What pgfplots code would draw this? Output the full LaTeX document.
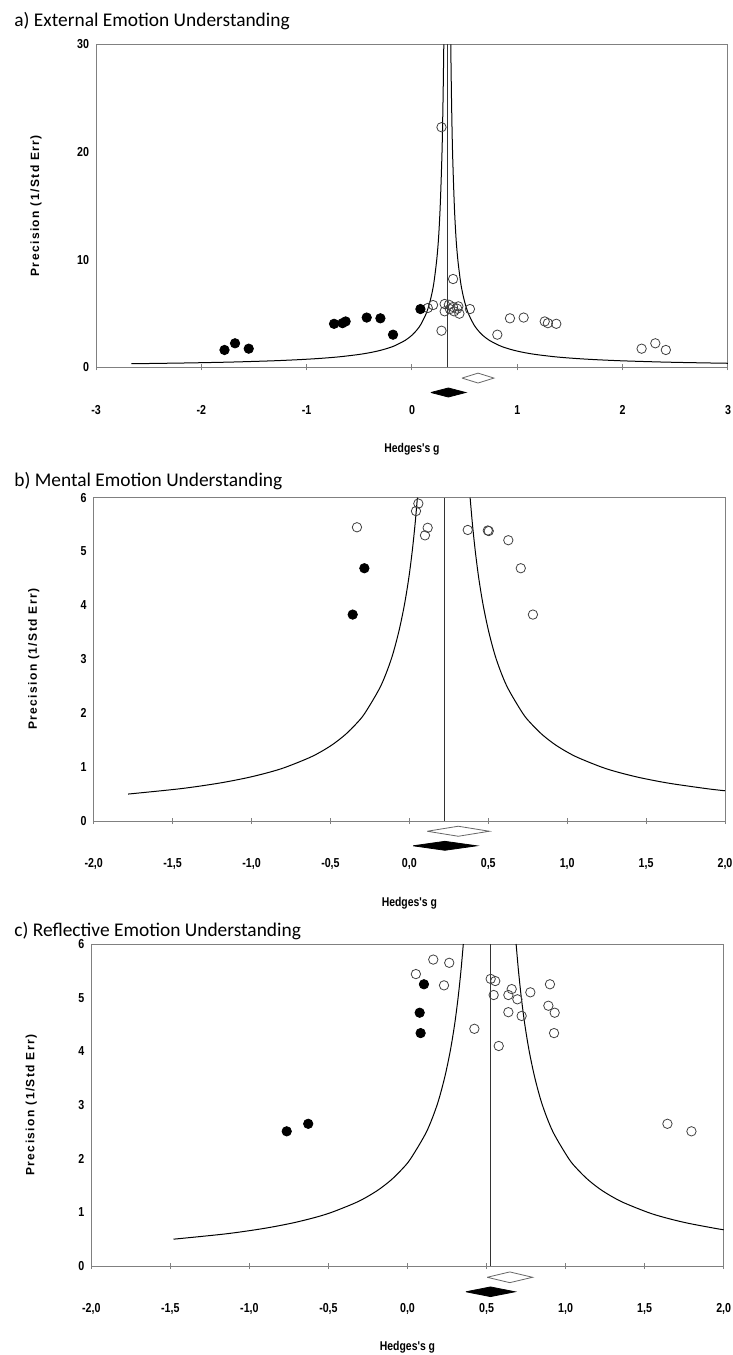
\documentclass[border=0pt]{standalone}
\usepackage{fontspec}
\setmainfont{Liberation Sans}
\newfontfamily\nf[FakeStretch=0.82]{Liberation Sans}
\newfontfamily\ylf[LetterSpace=12]{Liberation Sans}
\newfontfamily\tf{Carlito}
\usepackage{pgfplots}
\pgfplotsset{compat=1.18}
\pgfplotsset{
 funnel/.style={
  scale only axis, clip=false,
  axis line style={draw=black!50, line width=0.5pt},
  xtick pos=bottom, ytick pos=left, xtick align=center,
  major tick length=3pt,
  xtick style={draw=black!50, line width=0.5pt},
  ytick style={draw=none},
  tick label style={font=\nf\bfseries\fontsize{6.5}{7}\selectfont},
  xticklabel style={anchor=base, yshift=-21.95pt},
  ylabel={Precision (1/Std Err)},
  ylabel style={font=\ylf\bfseries\fontsize{6}{7}\selectfont, at={(axis description cs:-0.095,0.5)}, anchor=center},
  xlabel={Hedges's g},
  xlabel style={font=\nf\bfseries\fontsize{6.35}{7}\selectfont, at={(axis description cs:0.5,-0.263)}, anchor=base},
 },
 opn/.style={only marks, mark=o, mark size=2.35pt, mark options={draw=black!75, line width=0.4pt}},
 fld/.style={only marks, mark=*, mark size=2.35pt, mark options={draw=black, fill=black}},
 crv/.style={black, line width=0.5pt, no marks, smooth, tension=0.5},
}
\begin{document}
\begin{tikzpicture}
\useasboundingbox (0,0) rectangle (366.5pt,-677.5pt);
\node[anchor=base west, inner sep=0pt, font=\tf\fontsize{9.7}{11}\selectfont] at (7pt,-13.25pt) {a) External Emotion Understanding};
\node[anchor=base west, inner sep=0pt, font=\tf\fontsize{9.7}{11}\selectfont] at (7pt,-243pt) {b) Mental Emotion Understanding};
\node[anchor=base west, inner sep=0pt, font=\tf\fontsize{9.7}{11}\selectfont] at (7pt,-468pt) {c) Reflective Emotion Understanding};

% ---------------- panel a ----------------
\begin{axis}[funnel, at={(48pt,-183.65pt)}, anchor=south west, width=316pt, height=161.5pt,
  xmin=-3, xmax=3, ymin=0, ymax=30,
  xtick={-3,-2,-1,0,1,2,3}, xticklabels={-3,-2,-1,0,1,2,3},
  ytick={0,10,20,30}, yticklabels={0,10,20,30}]
\addplot[crv] coordinates {(-2.665,0.333) (-2.522,0.35) (-2.165,0.4) (-1.887,0.45) (-1.665,0.5) (-1.332,0.6) (-1.094,0.7) (-0.915,0.8) (-0.776,0.9) (-0.665,1) (-0.498,1.2) (-0.379,1.4) (-0.29,1.6) (-0.221,1.8) (-0.165,2) (-0.065,2.5) (0.002,3) (0.049,3.5) (0.085,4) (0.135,5) (0.168,6) (0.192,7) (0.21,8) (0.235,10) (0.252,12) (0.268,15) (0.285,20) (0.295,25) (0.302,30)};
\addplot[crv] coordinates {(3.0,0.3752) (2.835,0.4) (2.557,0.45) (2.335,0.5) (2.002,0.6) (1.764,0.7) (1.585,0.8) (1.446,0.9) (1.335,1) (1.168,1.2) (1.049,1.4) (0.96,1.6) (0.891,1.8) (0.835,2) (0.735,2.5) (0.668,3) (0.621,3.5) (0.585,4) (0.535,5) (0.502,6) (0.478,7) (0.46,8) (0.435,10) (0.418,12) (0.402,15) (0.385,20) (0.375,25) (0.368,30)};
\addplot[black!80, line width=0.5pt, no marks] coordinates {(0.335,0) (0.335,30)};
\addplot[opn] coordinates {(0.28,22.3) (0.39,8.2) (0.15,5.51) (0.20,5.78) (0.31,5.88) (0.31,5.20) (0.35,5.81) (0.36,5.41) (0.39,5.60) (0.40,5.20) (0.43,5.44) (0.44,5.66) (0.45,4.98) (0.28,3.40) (0.55,5.41) (0.81,3.03) (0.93,4.55) (1.06,4.62) (1.26,4.26) (1.29,4.10) (1.37,4.04) (2.18,1.73) (2.31,2.23) (2.41,1.61)};
\addplot[fld] coordinates {(0.08,5.41) (-0.18,3.03) (-0.30,4.55) (-0.43,4.62) (-0.63,4.26) (-0.66,4.10) (-0.74,4.04) (-1.55,1.73) (-1.68,2.23) (-1.78,1.61)};
\addplot[draw=black!60, fill=white, line width=0.4pt, no marks] coordinates {(0.475,-1.0) (0.627,-0.54) (0.778,-1.0) (0.627,-1.46) (0.475,-1.0)};
\addplot[draw=black, fill=black, line width=0.4pt, no marks] coordinates {(0.18,-2.34) (0.345,-1.92) (0.51,-2.34) (0.345,-2.76) (0.18,-2.34)};
\end{axis}

% ---------------- panel b ----------------
\begin{axis}[funnel, at={(46.85pt,-410.5pt)}, anchor=south west, width=315.65pt, height=161.7pt,
  xmin=-2, xmax=2, ymin=0, ymax=6,
  xtick={-2,-1.5,-1,-0.5,0,0.5,1,1.5,2}, xticklabels={{-2,0},{-1,5},{-1,0},{-0,5},{0,0},{0,5},{1,0},{1,5},{2,0}},
  ytick={0,1,2,3,4,5,6}, yticklabels={0,1,2,3,4,5,6}]
\addplot[crv] coordinates {(-1.782,0.5) (-1.449,0.6) (-1.211,0.7) (-1.032,0.8) (-0.893,0.9) (-0.782,1) (-0.615,1.2) (-0.496,1.4) (-0.407,1.6) (-0.338,1.8) (-0.282,2) (-0.182,2.5) (-0.115,3) (-0.068,3.5) (-0.032,4) (-0.004,4.5) (0.018,5) (0.036,5.5) (0.051,6)};
\addplot[crv] coordinates {(2.0,0.5612) (1.885,0.6) (1.647,0.7) (1.468,0.8) (1.329,0.9) (1.218,1) (1.051,1.2) (0.932,1.4) (0.843,1.6) (0.774,1.8) (0.718,2) (0.618,2.5) (0.551,3) (0.504,3.5) (0.468,4) (0.440,4.5) (0.418,5) (0.400,5.5) (0.385,6)};
\addplot[black!80, line width=0.5pt, no marks] coordinates {(0.222,0) (0.222,6)};
\addplot[opn] coordinates {(0.057,5.89) (0.042,5.75) (-0.332,5.45) (0.116,5.44) (0.099,5.30) (0.370,5.40) (0.497,5.39) (0.503,5.38) (0.627,5.21) (0.706,4.69) (0.783,3.83)};
\addplot[fld] coordinates {(-0.285,4.69) (-0.359,3.83)};
\addplot[draw=black!60, fill=white, line width=0.4pt, no marks] coordinates {(0.113,-0.19) (0.31,-0.097) (0.507,-0.19) (0.31,-0.283) (0.113,-0.19)};
\addplot[draw=black, fill=black, line width=0.4pt, no marks] coordinates {(0.024,-0.46) (0.225,-0.377) (0.427,-0.46) (0.225,-0.543) (0.024,-0.46)};
\end{axis}

% ---------------- panel c ----------------
\begin{axis}[funnel, at={(45.65pt,-633pt)}, anchor=south west, width=316.2pt, height=161pt,
  xmin=-2, xmax=2, ymin=0, ymax=6,
  xtick={-2,-1.5,-1,-0.5,0,0.5,1,1.5,2}, xticklabels={{-2,0},{-1,5},{-1,0},{-0,5},{0,0},{0,5},{1,0},{1,5},{2,0}},
  ytick={0,1,2,3,4,5,6}, yticklabels={0,1,2,3,4,5,6}]
\addplot[crv] coordinates {(-1.48,0.5) (-1.147,0.6) (-0.909,0.7) (-0.73,0.8) (-0.591,0.9) (-0.48,1) (-0.313,1.2) (-0.194,1.4) (-0.105,1.6) (-0.036,1.8) (0.02,2) (0.12,2.5) (0.187,3) (0.234,3.5) (0.27,4) (0.298,4.5) (0.32,5) (0.338,5.5) (0.353,6)};
\addplot[crv] coordinates {(2.0,0.6757) (1.949,0.7) (1.77,0.8) (1.631,0.9) (1.52,1) (1.353,1.2) (1.234,1.4) (1.145,1.6) (1.076,1.8) (1.02,2) (0.92,2.5) (0.853,3) (0.806,3.5) (0.77,4) (0.742,4.5) (0.72,5) (0.702,5.5) (0.687,6)};
\addplot[black!80, line width=0.5pt, no marks] coordinates {(0.522,0) (0.522,6)};
\addplot[opn] coordinates {(0.053,5.44) (0.163,5.71) (0.264,5.65) (0.231,5.23) (0.423,4.42) (0.526,5.35) (0.555,5.31) (0.545,5.05) (0.577,4.10) (0.638,5.05) (0.659,5.16) (0.695,4.97) (0.638,4.73) (0.722,4.66) (0.777,5.10) (0.901,5.25) (0.891,4.85) (0.931,4.72) (0.927,4.34) (1.644,2.65) (1.796,2.51)};
\addplot[fld] coordinates {(0.104,5.25) (0.077,4.72) (0.083,4.34) (-0.628,2.65) (-0.764,2.51)};
\addplot[draw=black!60, fill=white, line width=0.4pt, no marks] coordinates {(0.504,-0.21) (0.647,-0.11) (0.791,-0.21) (0.647,-0.31) (0.504,-0.21)};
\addplot[draw=black, fill=black, line width=0.4pt, no marks] coordinates {(0.37,-0.48) (0.525,-0.39) (0.68,-0.48) (0.525,-0.57) (0.37,-0.48)};
\end{axis}
\end{tikzpicture}
\end{document}
